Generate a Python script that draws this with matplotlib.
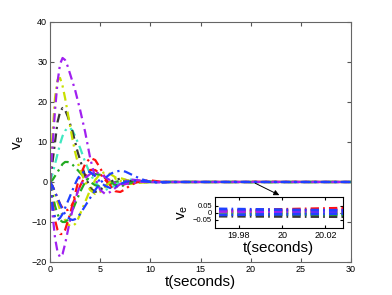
import numpy as np
import matplotlib
matplotlib.use("Agg")
import matplotlib.pyplot as plt

plt.rcParams['font.family'] = ['Liberation Sans', 'DejaVu Sans']

# time samples (seconds)
t = [0, 0.25, 0.5, 0.75, 1, 1.25, 1.5, 1.75, 2, 2.25, 2.5, 2.75, 3, 3.5, 4, 4.5,
     5, 5.5, 6, 6.5, 7, 7.5, 8, 9, 10, 11, 12, 14, 19.96, 20.04, 30]

# velocity error curves, one per agent
purple_up = [0, 9, 18, 25, 29.5, 31, 30.5, 29, 27, 25, 23, 20.5, 18, 12.5, 6, 1,
             -2, -3, -2.5, -1.5, -0.5, 0.3, 0.6, 0.4, 0, -0.1, 0, 0, 0.012, 0.018, 0]
purple_dn = [0, -8, -14, -17.5, -18.8, -18, -15.5, -12.5, -9.5, -7, -4.5, -2.5, -1, 1, 2, 2.5,
             2, 1.2, 0.4, -0.2, -0.5, -0.5, -0.3, 0, 0.1, 0, 0, 0, 0.008, 0.004, 0]
yellow_up = [0, 12, 21, 25.5, 26, 24, 21, 17.5, 14, 10.5, 7.5, 5, 3, 0, -2, -3,
             -2.5, -1.2, 0, 0.8, 1, 0.6, 0.2, -0.2, 0, 0, 0, 0, 0.002, 0.004, 0]
yellow_dn = [0, -1, -3, -5, -7, -8.5, -9.5, -10.5, -11, -11, -10.5, -9.5, -8, -5, -2, 0.5,
             2, 2.5, 2, 1.2, 0.3, -0.3, -0.5, -0.2, 0, 0, 0, 0, -0.004, -0.002, 0]
gray_up = [0, 5, 10, 15, 17.5, 18.5, 18, 16.5, 14.5, 12.5, 10, 7.5, 5.5, 1.5, -1.5, -2.5,
           -2, -1, 0, 0.6, 0.8, 0.5, 0.2, -0.1, 0, 0, 0, 0, -0.025, -0.03, 0]
cyan_up = [0, 2, 4.5, 7, 9.5, 11.5, 12.8, 13.5, 13.5, 12.8, 11.5, 10, 8.5, 5, 2, 0,
           -1.5, -2, -1.5, -0.8, 0, 0.5, 0.6, 0.3, 0, 0, 0, 0, -0.012, -0.02, 0]
red_a = [0, -5, -9.5, -12, -13, -13, -12, -10, -8, -5.5, -3, -0.5, 1.5, 4.5, 6, 5.5,
         3.5, 1, -1, -2.3, -2.5, -1.8, -0.8, 0.3, 0.4, 0.1, 0, 0, 0.01, 0.035, 0]
red_b = [0, -1, -2.5, -4, -5.5, -6.5, -7, -7, -6.5, -5.5, -4, -2.5, -1, 1.5, 3, 3,
         2, 0.5, -0.8, -1.2, -1, -0.5, 0, 0.3, 0.1, 0, 0, 0, 0.005, 0.022, 0]
blue_a = [0, -6, -9, -9.5, -9, -8, -6.5, -5, -3.5, -2, -0.5, 0.8, 1.8, 2.8, 2.5, 1.5,
          0, -1, -1.5, -1.2, -0.5, 0, 0.3, 0.3, 0, 0, 0, 0, 0.028, 0.012, 0]
blue_b = [0, -1, -2.5, -4, -5.5, -7, -8, -8.8, -9.3, -9.5, -9.3, -8.8, -8, -6, -4, -2,
          -0.3, 1, 2, 2.6, 2.8, 2.6, 2, 0.8, 0, -0.2, 0, 0, -0.018, -0.006, 0]
green_a = [0, -3, -6, -8, -9.5, -10, -10, -9.5, -8.5, -7, -5.5, -4, -2.5, 0, 1.5, 2,
           1.8, 1, 0, -0.7, -1, -0.8, -0.3, 0.2, 0.1, 0, 0, 0, -0.006, -0.016, 0]
green_b = [0, 0.5, 1.5, 2.5, 3.5, 4.5, 5, 5, 4.8, 4.3, 3.7, 3, 2.3, 1, 0, -0.8,
           -1.2, -1, -0.5, 0, 0.3, 0.3, 0.2, 0, 0, 0, 0, 0, 0.0, -0.008, 0]

curves = [cyan_up, yellow_dn, green_b, red_b, gray_up, green_a, red_a,
          yellow_up, purple_dn, purple_up, blue_b, blue_a]
colors = ['#40e8c0', '#c8e000', '#22aa22', '#ff1010', '#383838',
          '#22aa22', '#ff1010', '#c8e000', '#a020f0', '#a020f0', '#2040ff', '#2040ff']

fig = plt.figure(figsize=(3.92, 2.95), dpi=100)
ax = fig.add_axes([0.1276, 0.1119, 0.768, 0.8136])
for y, c in zip(curves, colors):
    ax.plot(t, y, color=c, lw=1.6, dashes=(4, 2, 1, 2))
ax.set_xlim(0, 30)
ax.set_ylim(-20, 40)
ax.set_xticks([0, 5, 10, 15, 20, 25, 30])
ax.set_yticks([-20, -10, 0, 10, 20, 30, 40])
ax.set_yticklabels(['\u221220', '\u221210', '0', '10', '20', '30', '40'])
ax.tick_params(direction='in', labelsize=6.5, length=3, top=True, right=True,
               color='#555555', pad=2)
for sp in ax.spines.values():
    sp.set_color('#666666')
ax.set_xlabel('t(seconds)', fontsize=11, labelpad=1)
ax.set_ylabel(r'v$_\mathregular{e}$', fontsize=11, labelpad=4)

ax.annotate('', xy=(23.1, -3.6), xytext=(20.2, 0),
            arrowprops=dict(arrowstyle='-|>', color='black', lw=0.7,
                            mutation_scale=8))

# inset around t = 20
ins = fig.add_axes([0.548, 0.227, 0.3265, 0.105])
for y, c in zip(curves, colors):
    ins.plot(t, y, color=c, lw=2, dashes=(3, 1.5, 0.6, 1.5))
ins.set_xlim(19.969, 20.028)
ins.set_ylim(-0.11, 0.11)
ins.set_xticks([19.98, 20, 20.02])
ins.set_xticklabels(['19.98', '20', '20.02'])
ins.set_yticks([-0.05, 0, 0.05])
ins.set_yticklabels(['\u22120.05', '0', '0.05'])
ins.tick_params(axis='x', direction='in', labelsize=6.5, length=2, top=True, pad=2)
ins.tick_params(axis='y', direction='in', labelsize=5.5, length=2, right=True, pad=2)
ins.set_xlabel('t(seconds)', fontsize=11, labelpad=1)
ins.set_ylabel(r'v$_\mathregular{e}$', fontsize=11, labelpad=2)

fig.savefig('out.png', dpi=100)
